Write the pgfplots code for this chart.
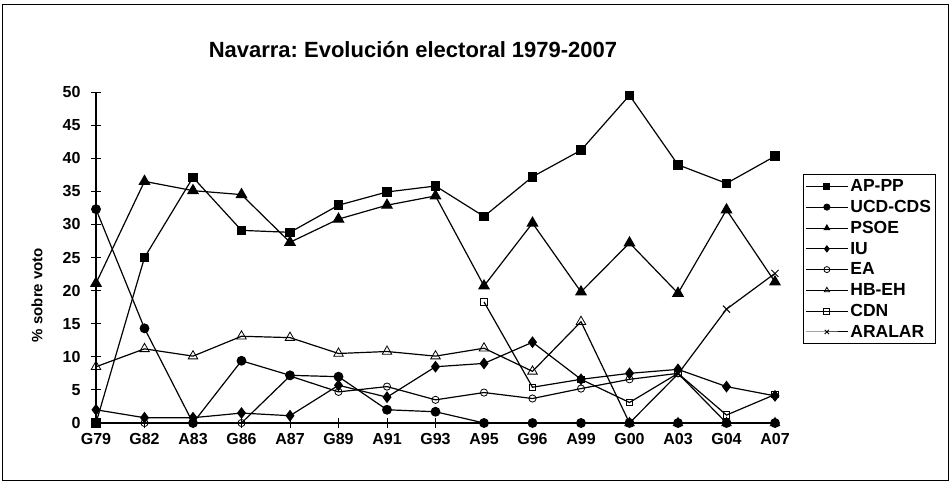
\documentclass[border=0pt]{standalone}
\usepackage{fontspec}
\setmainfont{Liberation Sans}
\usepackage{pgfplots}
\pgfplotsset{compat=1.18}
\usepackage{pgfplotstable}
\frenchspacing

% one row per election, 0..14
\pgfplotstableread{
x  ap    ucd   psoe  iu    ea    hb
0  0     32.3  21.1  2.0   nan   8.5
1  25.0  14.3  36.5  0.8   0     11.2
2  37.1  0     35.1  0.8   0     10.1
3  29.1  9.4   34.5  1.5   0     13.1
4  28.8  7.2   27.3  1.1   7.1   12.9
5  32.9  7.0   30.8  5.7   4.7   10.5
6  34.9  2.0   32.9  3.9   5.5   10.8
7  35.8  1.7   34.3  8.5   3.5   10.1
8  31.2  0     20.7  9.0   4.6   11.3
9  37.2  0     30.2  12.2  3.7   7.8
10 41.2  0     19.8  6.6   5.2   15.3
11 49.5  0     27.2  7.5   6.6   0
12 39.0  0     19.6  8.1   7.5   0
13 36.2  0     32.2  5.5   0     0
14 40.3  0     21.3  4.1   0     0
}\votos

\pgfplotstableread{
x  cdn
8  18.3
9  5.4
10 6.6
11 3.1
12 7.5
13 1.2
14 4.3
}\cdn

\pgfplotstableread{
x  aralar
11 0
12 7.4
13 17.2
14 22.6
}\aralar

\begin{document}
\begin{tikzpicture}
\useasboundingbox (-96pt,-60pt) rectangle (855pt,423pt);
\draw[line width=0.9pt] (-94pt,-57pt) rectangle (852pt,419pt);
\node[font=\fontsize{22}{24}\selectfont\bfseries] at (317pt,373pt)
  {Navarra: Evolución electoral 1979-2007};
\begin{axis}[
  at={(0pt,0pt)}, anchor=south west,
  scale only axis, width=679pt, height=331pt,
  xmin=0, xmax=14, ymin=0, ymax=50,
  axis lines*=left,
  axis line style={line width=1.1pt},
  xtick={0,...,14},
  xticklabels={G79,G82,A83,G86,A87,G89,A91,G93,A95,G96,A99,G00,A03,G04,A07},
  ytick={0,5,...,50},
  tick align=center, major tick length=10pt,
  tick style={line width=1pt, black},
  /pgf/number format/assume math mode=true,
  tick label style={font=\fontsize{16}{16}\selectfont\bfseries},
  yticklabel style={xshift=-7pt},
  xticklabel style={yshift=-2pt},
  ylabel={\% sobre voto},
  every axis y label/.style={at={(-59pt,128pt)}, rotate=90, anchor=center,
    font=\fontsize{15}{15}\selectfont\bfseries},
  clip=false,
  every axis plot/.append style={black, line width=1.2pt},
  legend style={at={(1.0412,0.752)}, anchor=north west,
    draw=black, line width=0.8pt,
    font=\fontsize{17.5}{19}\selectfont\bfseries,
    row sep=3.2pt, inner xsep=2pt, inner ysep=3pt,
    nodes={inner xsep=2pt}},
  legend cell align=left,
  legend image code/.code={%
    \draw[mark repeat=2,mark phase=2,line width=1pt,#1,mark size=3pt]
      plot coordinates {(0pt,0pt) (21pt,0pt) (42pt,0pt)};},
]
\addplot[mark=square*, mark size=4.2pt] table[x=x, y=ap] {\votos};
\addlegendentry{AP-PP}
\addplot[mark=*, mark size=4.3pt] table[x=x, y=ucd] {\votos};
\addlegendentry{UCD-CDS}
\addplot[mark=triangle*, mark size=5.8pt] table[x=x, y=psoe] {\votos};
\addlegendentry{PSOE}
\addplot[mark=diamond*, mark size=5pt] table[x=x, y=iu] {\votos};
\addlegendentry{IU}
\addplot[mark=o, mark size=3.6pt, mark options={fill=white, line width=0.8pt}] table[x=x, y=ea] {\votos};
\addlegendentry{EA}
\addplot[mark=triangle, mark size=5.5pt, mark options={fill=white, line width=0.8pt}] table[x=x, y=hb] {\votos};
\addlegendentry{HB-EH}
\addplot[mark=square, mark size=3.3pt, mark options={fill=white, line width=0.8pt}] table[x=x, y=cdn] {\cdn};
\addlegendentry{CDN}
\addplot[mark=x, mark size=5pt, mark options={line width=0.9pt}] table[x=x, y=aralar] {\aralar};
\addlegendentry{ARALAR}
\end{axis}
\end{tikzpicture}
\end{document}
